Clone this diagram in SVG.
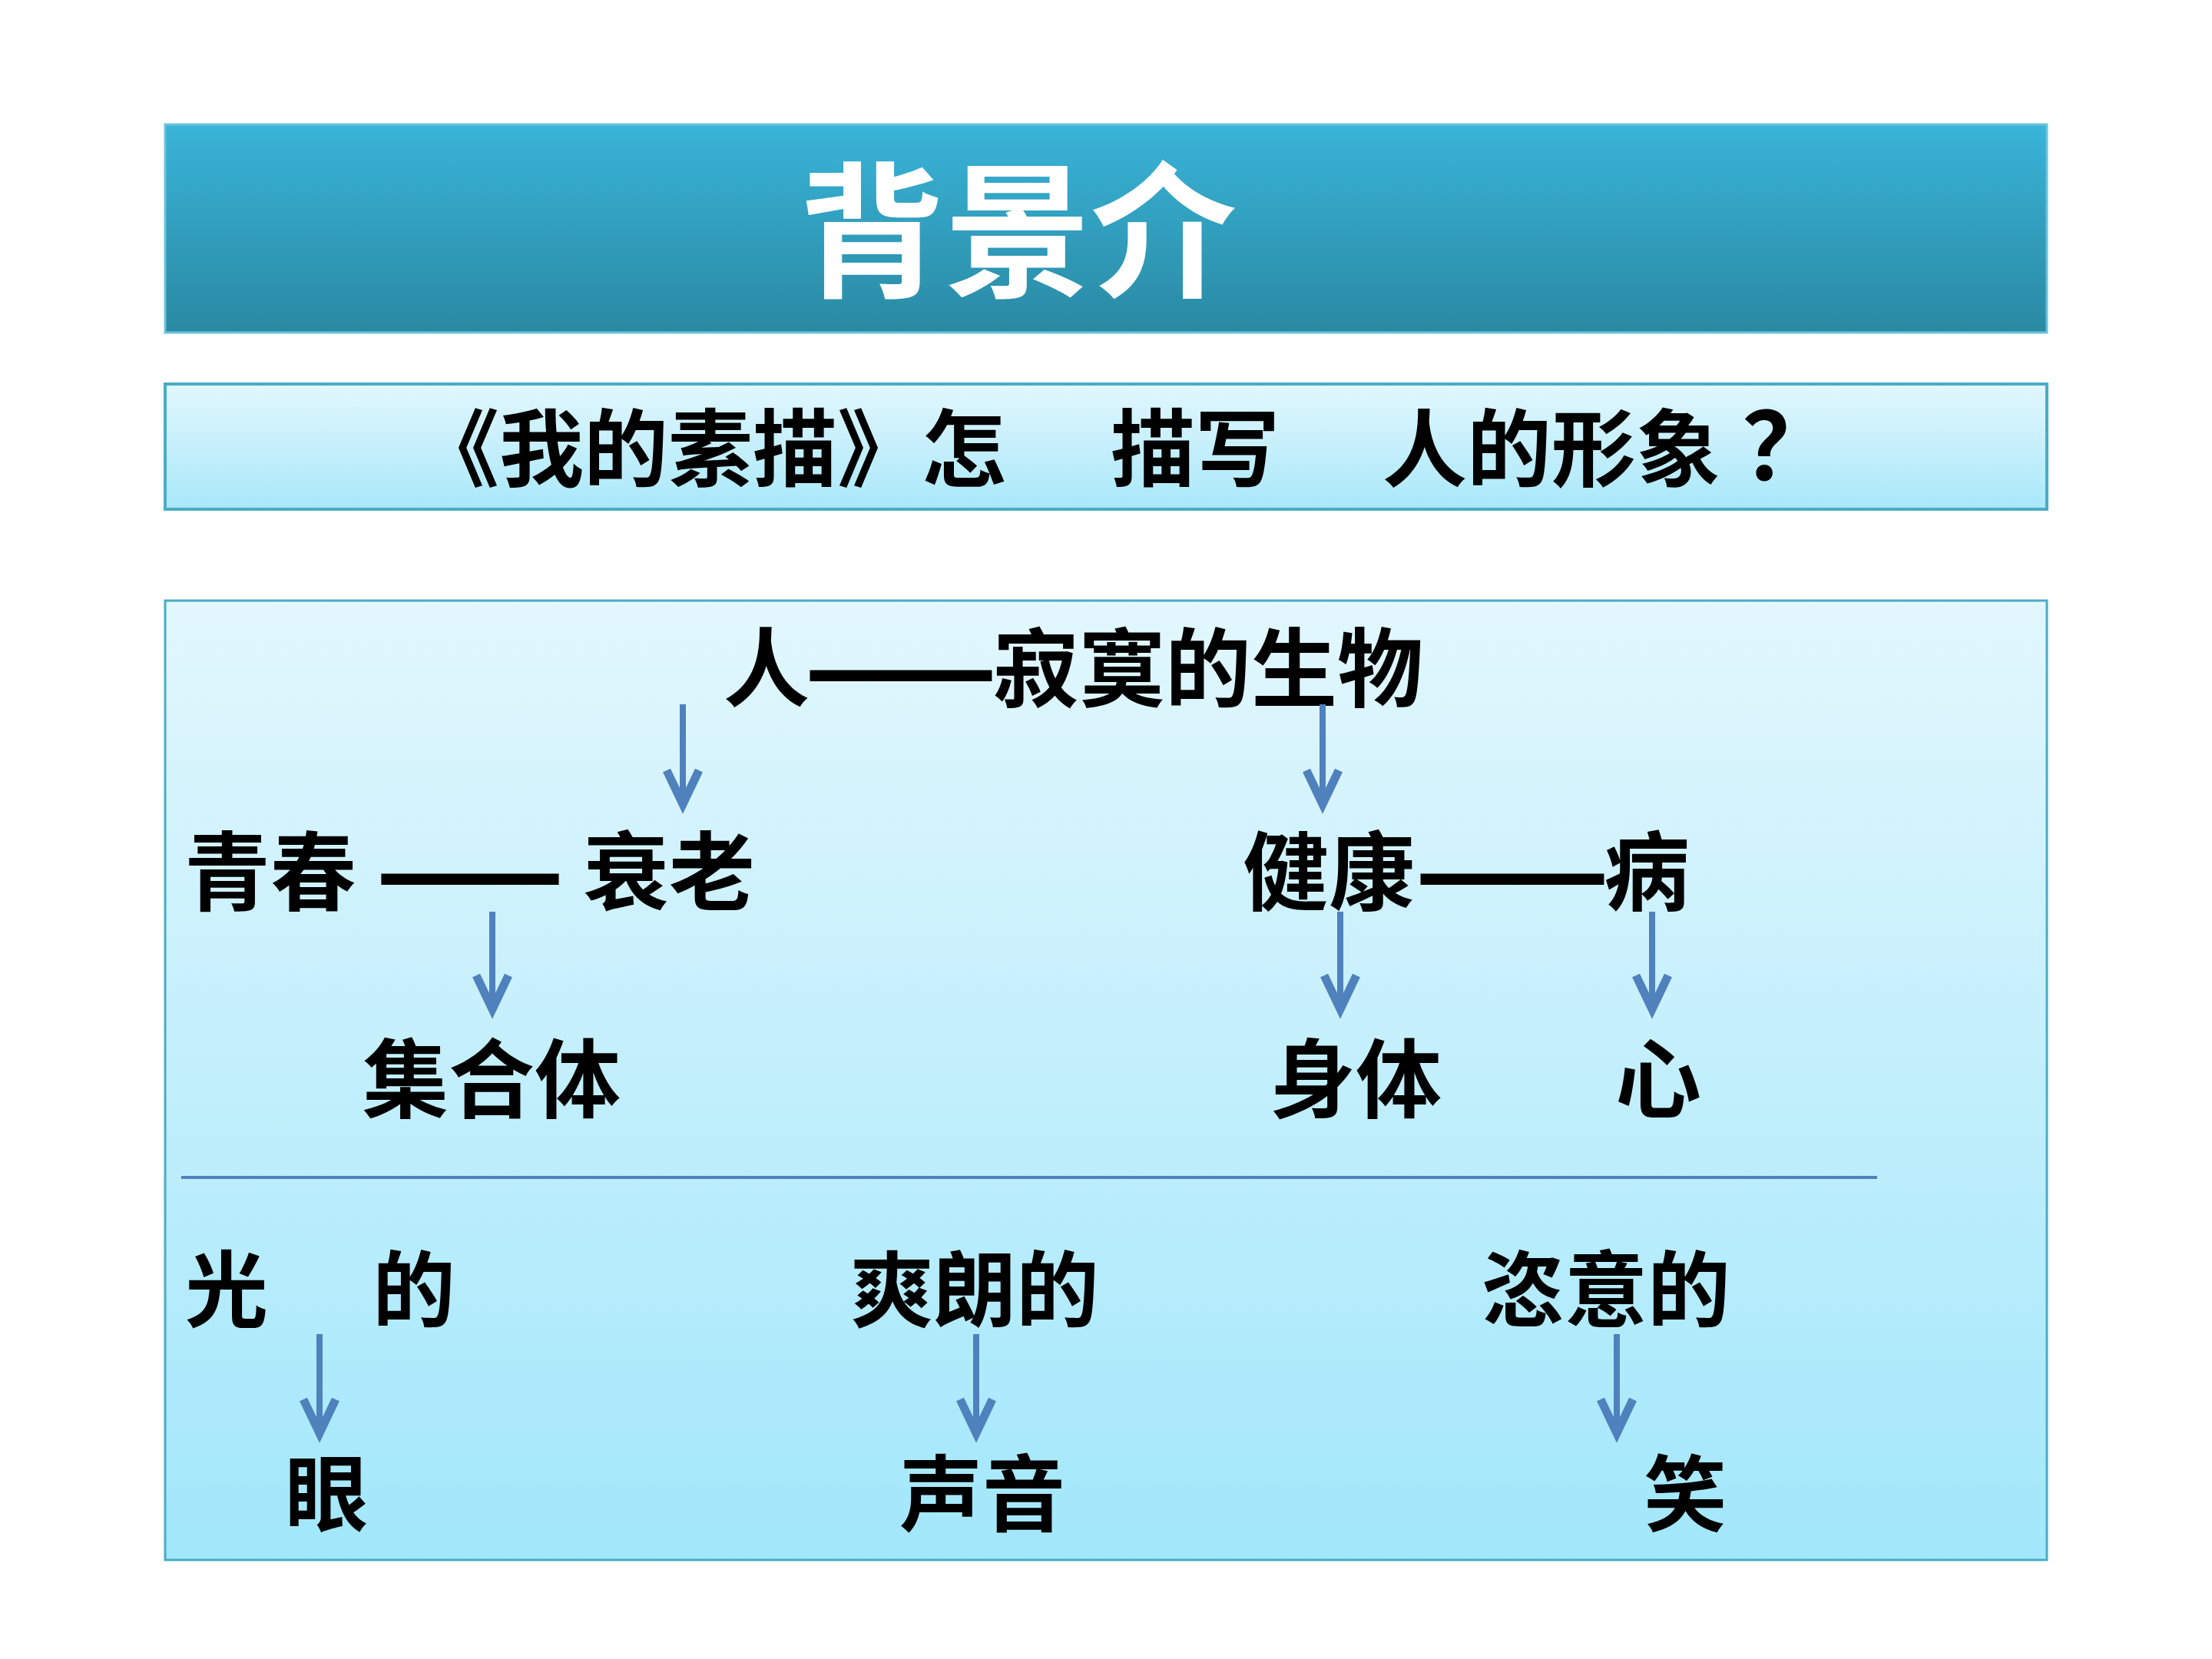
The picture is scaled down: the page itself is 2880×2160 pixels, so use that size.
<svg xmlns="http://www.w3.org/2000/svg" width="2880" height="2160" viewBox="0 0 2880 2160">
  <defs>
    <linearGradient id="gBanner" x1="0" y1="0" x2="0" y2="1">
      <stop offset="0" stop-color="#39b4d8"/>
      <stop offset="1" stop-color="#2a89a3"/>
    </linearGradient>
    <linearGradient id="gSub" x1="0" y1="0" x2="0" y2="1">
      <stop offset="0" stop-color="#e2f7fd"/>
      <stop offset="1" stop-color="#a9e8fa"/>
    </linearGradient>
    <linearGradient id="gMain" x1="0" y1="0" x2="0" y2="1">
      <stop offset="0" stop-color="#e2f7fd"/>
      <stop offset="1" stop-color="#a2e7fb"/>
    </linearGradient>
    <style>
      .t { font-family: "Noto Sans CJK SC", "Noto Sans CJK TC", sans-serif; font-weight: 700; fill: #000; }
      .m { font-size: 112px; }
      .s { font-size: 108px; }
      .dash { stroke: #000; stroke-width: 4px; }
      .shaft { stroke: #4f81bd; stroke-width: 8; fill: none; }
      .head { stroke: #4f81bd; stroke-width: 11; fill: none; stroke-linejoin: miter; stroke-miterlimit: 10; }
    </style>
  </defs>

  <rect width="2880" height="2160" fill="#ffffff"/>

  <g id="title-banner">
    <rect x="215" y="162" width="2450" height="271" fill="url(#gBanner)" stroke="#6cc3dd" stroke-width="3"/>
    <text x="1040" y="372" class="t" style="font-size:190px;fill:#ffffff">背景介</text>
  </g>

  <g id="question">
    <rect x="215" y="500" width="2450" height="163" fill="url(#gSub)" stroke="#4bacc6" stroke-width="4"/>
    <text x="540" y="625" class="t" style="font-size:110px">《我的素描》怎</text>
    <text x="1446" y="625" class="t" style="font-size:110px">描写</text>
    <text x="1800" y="625" class="t" style="font-size:110px">人的形象<tspan x="2268" style="font-size:122px">？</tspan></text>
  </g>

  <g id="main-panel">
    <rect x="215" y="782" width="2450" height="1249" fill="url(#gMain)" stroke="#4bacc6" stroke-width="3"/>
    <line x1="236" y1="1533" x2="2444" y2="1533" stroke="#4f81bd" stroke-width="4"/>
  </g>

  <g id="node-root">
    <text x="942" y="912" class="t m">人</text>
    <text x="1050" y="912" class="t m dash" textLength="246" lengthAdjust="spacingAndGlyphs">——</text>
    <text x="1293" y="912" class="t m">寂寞的生物</text>
  </g>
  <g id="node-youth-age">
    <text x="240" y="1177" class="t m">青春</text>
    <text x="492" y="1177" class="t m dash" textLength="240" lengthAdjust="spacingAndGlyphs">——</text>
    <text x="759" y="1177" class="t m">衰老</text>
  </g>
  <g id="node-health-illness">
    <text x="1618" y="1177" class="t m">健康</text>
    <text x="1845" y="1177" class="t m dash" textLength="248" lengthAdjust="spacingAndGlyphs">——</text>
    <text x="2088" y="1177" class="t m">病</text>
  </g>
  <g id="node-collective">
    <text x="472" y="1447" class="t m">集合体</text>
  </g>
  <g id="node-body">
    <text x="1653" y="1447" class="t m">身体</text>
  </g>
  <g id="node-heart">
    <text x="2103" y="1447" class="t m">心</text>
  </g>
  <g id="node-light">
    <text x="241" y="1719" class="t s">光</text>
    <text x="485" y="1719" class="t s">的</text>
  </g>
  <g id="node-bright">
    <text x="1107" y="1719" class="t s">爽朗的</text>
  </g>
  <g id="node-free">
    <text x="1929" y="1719" class="t s">恣意的</text>
  </g>
  <g id="node-eye">
    <text x="371" y="1985" class="t s">眼</text>
  </g>
  <g id="node-voice">
    <text x="1171" y="1985" class="t s">声音</text>
  </g>
  <g id="node-smile">
    <text x="2140" y="1985" class="t s">笑</text>
  </g>

  <g id="connectors">
    <g transform="translate(889,0)">
      <line class="shaft" x1="0" y1="917" x2="0" y2="1046"/>
      <polyline class="head" points="-21,1003 0,1047 21,1003"/>
    </g>
    <g transform="translate(1722,0)">
      <line class="shaft" x1="0" y1="917" x2="0" y2="1046"/>
      <polyline class="head" points="-21,1003 0,1047 21,1003"/>
    </g>
    <g transform="translate(641,0)">
      <line class="shaft" x1="0" y1="1187" x2="0" y2="1314"/>
      <polyline class="head" points="-21,1270 0,1314 21,1270"/>
    </g>
    <g transform="translate(1745,0)">
      <line class="shaft" x1="0" y1="1187" x2="0" y2="1314"/>
      <polyline class="head" points="-21,1270 0,1314 21,1270"/>
    </g>
    <g transform="translate(2151,0)">
      <line class="shaft" x1="0" y1="1187" x2="0" y2="1314"/>
      <polyline class="head" points="-21,1270 0,1314 21,1270"/>
    </g>
    <g transform="translate(416,0)">
      <line class="shaft" x1="0" y1="1737" x2="0" y2="1866"/>
      <polyline class="head" points="-21,1822 0,1866 21,1822"/>
    </g>
    <g transform="translate(1271,0)">
      <line class="shaft" x1="0" y1="1737" x2="0" y2="1866"/>
      <polyline class="head" points="-21,1822 0,1866 21,1822"/>
    </g>
    <g transform="translate(2105,0)">
      <line class="shaft" x1="0" y1="1737" x2="0" y2="1866"/>
      <polyline class="head" points="-21,1822 0,1866 21,1822"/>
    </g>
  </g>
</svg>
